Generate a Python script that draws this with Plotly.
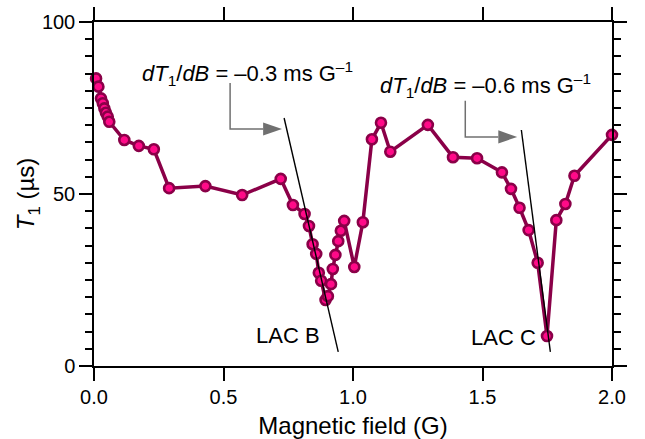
import plotly.graph_objects as go

# Data
field_G = [0.008, 0.017, 0.027, 0.034, 0.040, 0.046, 0.053, 0.059, 0.117, 0.173, 0.231,
           0.290, 0.430, 0.572, 0.721, 0.768, 0.813, 0.830, 0.844, 0.858, 0.868, 0.877,
           0.894, 0.903, 0.915, 0.922, 0.932, 0.943, 0.953, 0.966, 1.005, 1.038, 1.073,
           1.108, 1.144, 1.289, 1.386, 1.479, 1.575, 1.610, 1.643, 1.678, 1.713, 1.749,
           1.785, 1.820, 1.855, 2.000]
t1_us = [83.6, 81.2, 77.8, 76.4, 74.9, 73.6, 72.5, 71.0, 65.7, 64.0, 63.0,
         51.7, 52.3, 49.7, 54.4, 46.8, 44.2, 40.7, 35.4, 32.6, 27.1, 24.8,
         19.2, 20.3, 23.8, 28.2, 32.3, 36.3, 39.3, 42.2, 28.8, 41.8, 65.9,
         70.7, 62.3, 70.1, 60.7, 60.4, 56.3, 51.5, 46.0, 39.5, 30.0, 8.7,
         42.4, 47.1, 55.3, 67.2]

# Tangent lines (slopes dT1/dB)
tangent_b_x = [0.734, 0.943]
tangent_b_y = [72.1, 4.1]
tangent_c_x = [1.650, 1.762]
tangent_c_y = [68.6, 4.1]

x_ticks = [0.0, 0.5, 1.0, 1.5, 2.0]
x_ticklabels = ["0.0", "0.5", "1.0", "1.5", "2.0"]
y_ticks = [0, 50, 100]

font_family = "Liberation Sans, Arial, sans-serif"
line_col = "#8a0048"
fill_col = "#ff0a88"
arrow_col = "#707070"

fig = go.Figure()

fig.add_trace(go.Scatter(
    x=field_G, y=t1_us, mode="lines+markers",
    line=dict(color=line_col, width=3.5),
    marker=dict(size=10, color=fill_col, line=dict(color=line_col, width=2.6)),
    showlegend=False, cliponaxis=False,
))
fig.add_trace(go.Scatter(x=tangent_b_x, y=tangent_b_y, mode="lines",
                         line=dict(color="black", width=1.4), showlegend=False))
fig.add_trace(go.Scatter(x=tangent_c_x, y=tangent_c_y, mode="lines",
                         line=dict(color="black", width=1.4), showlegend=False))

# Elbow arrows (vertical + horizontal segment, filled triangle head)
def elbow(xv, ytop, ybot, xhead0, xtip, hh):
    fig.add_shape(type="path", xref="x", yref="y",
                  path=f"M {xv},{ytop} L {xv},{ybot} L {xhead0},{ybot}",
                  line=dict(color=arrow_col, width=1.5))
    fig.add_shape(type="path", xref="x", yref="y",
                  path=f"M {xhead0},{ybot-hh} L {xtip},{ybot} L {xhead0},{ybot+hh} Z",
                  line=dict(color=arrow_col, width=0), fillcolor=arrow_col)

elbow(0.5255, 82.3, 68.9, 0.653, 0.726, 1.9)
elbow(1.4335, 77.1, 66.6, 1.561, 1.634, 1.9)

ann_font = dict(family=font_family, size=22, color="black")
fig.add_annotation(x=0.591, y=84.9, xref="x", yref="y", showarrow=False,
                   text="<i>dT</i><sub>1</sub>/<i>dB</i> = –0.3 ms G<sup>–1</sup>",
                   font=ann_font)
fig.add_annotation(x=1.511, y=81.4, xref="x", yref="y", showarrow=False,
                   text="<i>dT</i><sub>1</sub>/<i>dB</i> = –0.6 ms G<sup>–1</sup>",
                   font=ann_font)
fig.add_annotation(x=0.750, y=9.0, xref="x", yref="y", showarrow=False,
                   text="LAC B", font=ann_font)
fig.add_annotation(x=1.580, y=8.4, xref="x", yref="y", showarrow=False,
                   text="LAC C", font=ann_font)

fig.update_layout(
    width=645, height=439,
    margin=dict(l=94, r=33, t=22, b=73),
    paper_bgcolor="white", plot_bgcolor="white",
    font=dict(family=font_family, size=20, color="black"),
    xaxis=dict(range=[0, 2.0], tickvals=x_ticks, ticktext=x_ticklabels,
               automargin=False, ticklabelstandoff=-1,
               showline=True, linecolor="black", linewidth=1.5, mirror="ticks",
               ticks="outside", ticklen=13, tickwidth=1.5, tickcolor="black",
               showgrid=False, zeroline=False,
               title=dict(text="Magnetic field (G)", font=dict(size=24), standoff=12)),
    yaxis=dict(range=[0, 100], tickvals=y_ticks,
               automargin=False, ticklabelstandoff=0,
               showline=True, linecolor="black", linewidth=1.5, mirror="ticks",
               ticks="outside", ticklen=13, tickwidth=1.5, tickcolor="black",
               minor=dict(dtick=5, ticks="outside", ticklen=7, tickwidth=1.5, tickcolor="black"),
               showgrid=False, zeroline=False,
               title=dict(text="<i>T</i><sub>1</sub> (µs)", font=dict(size=24), standoff=0)),
)

fig.write_html("out.html")
